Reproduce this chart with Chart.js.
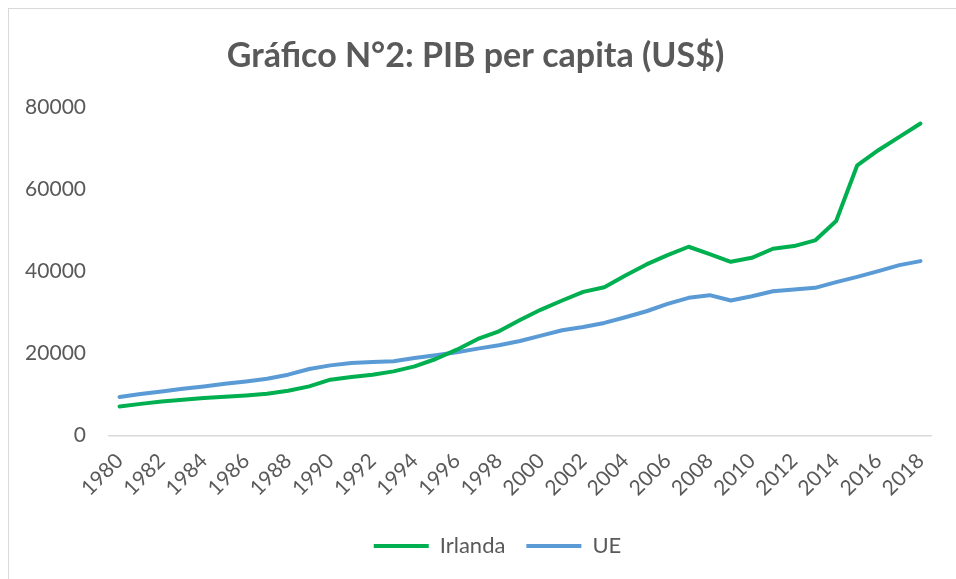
<!DOCTYPE html>
<html>
<head>
<meta charset="utf-8">
<script src="https://cdn.jsdelivr.net/npm/chart.js@4"></script>
<style>
  html, body { margin: 0; padding: 0; background: #fff; overflow: hidden; }
  #wrap { position: relative; width: 956px; height: 579px; }
  #frame { position: absolute; left: 8px; top: 8px; width: 980px; height: 600px; border: 1px solid #d9d9d9; box-sizing: border-box; }
</style>
</head>
<body>
<div id="wrap">
  <div id="frame"></div>
  <canvas id="myChart" width="956" height="579"></canvas>
</div>
<script>
const years = [];
for (let y = 1980; y <= 2018; y++) years.push(String(y));

const irlanda = [7070, 7700, 8290, 8700, 9110, 9430, 9760, 10160, 10890, 11950,
  13580, 14230, 14800, 15610, 16830, 18620, 20890, 23500, 25370, 28100,
  30650, 32850, 34960, 36100, 38940, 41630, 43900, 45940, 44150, 42280,
  43250, 45450, 46100, 47480, 52200, 65770, 69430, 72680, 75930];

const ue = [9350, 10080, 10730, 11380, 11950, 12600, 13170, 13820, 14800, 16180,
  17070, 17640, 17890, 18050, 18860, 19510, 20240, 21140, 21950, 23000,
  24310, 25610, 26420, 27400, 28780, 30240, 32030, 33500, 34150, 32850,
  33900, 35120, 35530, 35940, 37320, 38620, 40000, 41460, 42440];

const yTicks = [0, 20000, 40000, 60000, 80000];

const textColor = "#595959";
const fontFam = "Lato";

const data = {
  labels: years,
  datasets: [
    {
      label: "Irlanda",
      data: irlanda,
      borderColor: "#00B050",
      backgroundColor: "#00B050",
      borderWidth: 4,
      borderCapStyle: "round",
      borderJoinStyle: "round",
      pointRadius: 0,
      tension: 0,
    },
    {
      label: "UE",
      data: ue,
      borderColor: "#5B9BD5",
      backgroundColor: "#5B9BD5",
      borderWidth: 4,
      borderCapStyle: "round",
      borderJoinStyle: "round",
      pointRadius: 0,
      tension: 0,
    },
  ],
};

// Excel puts the legend a little right of centre
const legendShift = {
  id: "legendShift",
  afterLayout(chart) {
    chart.legend.left += 22;
    chart.legend.right += 22;
  },
};

const config = {
  type: "line",
  data: data,
  plugins: [legendShift],
  options: {
    responsive: false,
    animation: false,
    layout: {
      padding: { top: 10, left: 20, right: 25, bottom: 12 },
    },
    plugins: {
      title: {
        display: true,
        text: "Gráfico N°2: PIB per capita (US$)",
        color: textColor,
        font: { family: fontFam, size: 34, weight: "bold" },
        padding: { top: 26, bottom: 30 },
      },
      legend: {
        position: "bottom",
        labels: {
          usePointStyle: true,
          pointStyle: "line",
          pointStyleWidth: 55,
          color: textColor,
          font: { family: fontFam, size: 22 },
          padding: 10,
          generateLabels: (chart) => {
            const items = Chart.defaults.plugins.legend.labels.generateLabels(chart);
            items[0].text = items[0].text + "\u2002";
            return items;
          },
        },
      },
      tooltip: { enabled: false },
    },
    scales: {
      x: {
        offset: true,
        grid: { display: false, drawTicks: false },
        border: { display: true, color: "#d9d9d9", width: 1.5 },
        ticks: {
          autoSkip: false,
          maxRotation: 45,
          minRotation: 45,
          padding: 13,
          color: textColor,
          font: { family: fontFam, size: 21 },
          callback: function (v, i) {
            return i % 2 === 0 ? years[i] : "";
          },
        },
        afterFit: (s) => { s.height = 89.5; },
      },
      y: {
        min: 0,
        max: 80000,
        grid: { display: false, drawTicks: false },
        border: { display: false },
        afterBuildTicks: (s) => { s.ticks = yTicks.map((v) => ({ value: v })); },
        ticks: {
          padding: 23,
          color: textColor,
          font: { family: fontFam, size: 21 },
          callback: (v) => String(v),
        },
        afterFit: (s) => { s.width = 89; },
      },
    },
  },
};

const myChart = new Chart(document.getElementById("myChart"), config);
</script>
</body>
</html>
